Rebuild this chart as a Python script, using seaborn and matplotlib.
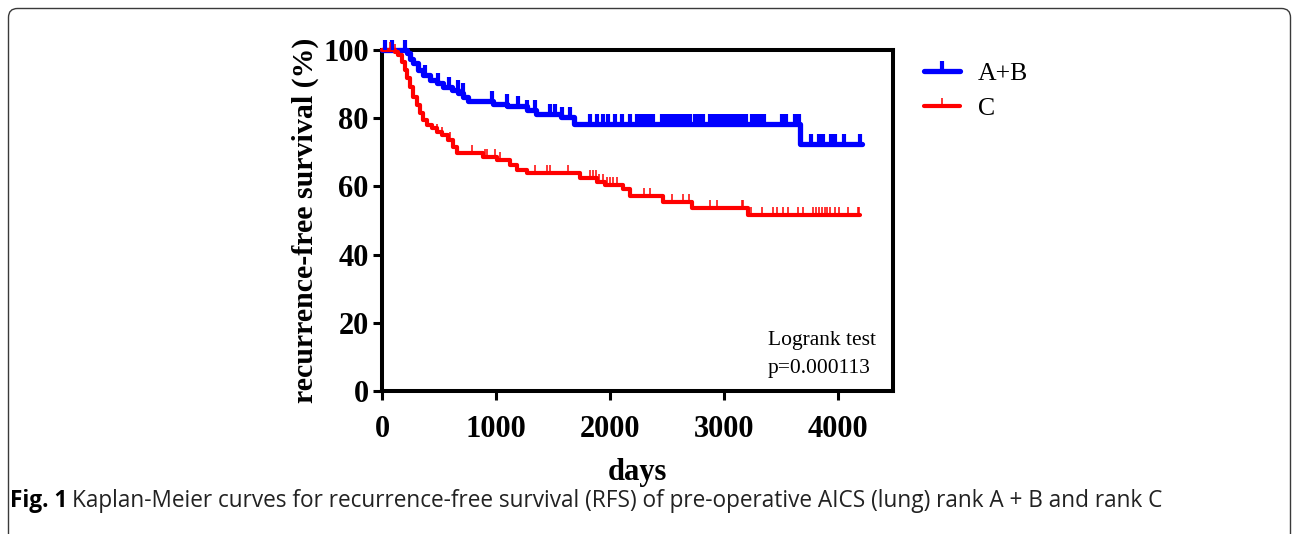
import numpy as np
import pandas as pd
import matplotlib
matplotlib.use("Agg")
import matplotlib.pyplot as plt
import seaborn as sns
from matplotlib.lines import Line2D
from matplotlib.patches import FancyBboxPatch
from matplotlib.transforms import IdentityTransform

# ---------------- data ----------------
groups = ["A+B", "C"]

ab_time = [0, 216, 246, 275, 319, 363, 421, 480, 538, 611, 670, 713, 757, 970, 1100,
           1270, 1350, 1570, 1680, 3670]
ab_surv = [100, 99, 97.5, 96.1, 94.1, 92.7, 91.2, 90.2, 89.2, 88.3, 87.3, 86.3, 85,
           84.2, 83.6, 82.4, 81.2, 80.3, 78.4, 72.3]
ab_end = 4210
ab_cens = [26, 88, 202, 377, 491, 588, 667, 711, 965, 1096, 1193, 1272, 1342, 1474,
           1518, 1579, 1649, 1825, 1886, 1939, 1982, 2044, 2105, 2175, 2237, 2289,
           2351, 2272, 2307, 2342, 2377, 2456, 2491, 2526, 2561, 2596, 2632, 2667,
           2702, 2746, 2781, 2816, 2877, 2912, 2947, 2982, 3018, 3053, 3088, 3123,
           3158, 3193, 3246, 3281, 3316, 3351, 3509, 3544, 3623, 3658, 3763, 3833,
           3868, 3939, 3974, 4053, 4193]

c_time = [0, 114, 143, 172, 202, 222, 246, 275, 304, 333, 363, 392, 436, 480, 523,
          582, 620, 655, 886, 1009, 1123, 1184, 1272, 1737, 1886, 1956, 2114, 2175,
          2465, 2719, 3211]
c_surv = [100, 99.3, 98.5, 96.6, 94.1, 91.7, 89.2, 86.3, 83.9, 81.4, 79.5, 78, 77,
          76, 75.1, 73.6, 71.6, 69.7, 68.6, 67.7, 66.2, 64.9, 63.8, 62.6, 61.2, 60.5,
          59.3, 57.2, 55.5, 53.7, 51.7]
c_end = 4193
c_cens = [70, 114, 482, 526, 596, 789, 904, 921, 991, 1035, 1342, 1447, 1474, 1632,
          1825, 1851, 1877, 1903, 1939, 1974, 2000, 2026, 2061, 2298, 2351, 2544,
          2640, 2693, 2719, 2877, 2939, 3158, 3167, 3211, 3237, 3333, 3430, 3465,
          3518, 3561, 3649, 3693, 3781, 3807, 3833, 3860, 3886, 3904, 3930, 3974,
          4009, 4088, 4175, 4184]

x_ticks = [0, 1000, 2000, 3000, 4000]
y_ticks = [0, 20, 40, 60, 80, 100]
logrank_lines = ["Logrank test", "p=0.000113"]
caption_bold = "Fig. 1"
caption_text = ("Kaplan-Meier curves for recurrence-free survival (RFS) of pre-operative "
                "AICS (lung) rank A + B and rank C")

# ---------------- style ----------------
sns.set_style("ticks")
SERIF = ["Liberation Serif", "DejaVu Serif"]
plt.rcParams["font.family"] = SERIF
for k in ["text.color", "axes.labelcolor", "xtick.color", "ytick.color"]:
    plt.rcParams[k] = "black"

W, H, DPI = 1292, 534, 100
fig = plt.figure(figsize=(W / DPI, H / DPI), dpi=DPI)
fig.patch.set_facecolor("white")

x0, x1, yb, yt = 382, 893, 391, 50
ax = fig.add_axes([x0 / W, 1 - yb / H, (x1 - x0) / W, (yb - yt) / H])
ax.set_facecolor("white")

styles = {
    "A+B": dict(color="#0000FF", lw=3.8, ms=7.5, mew=3.0),
    "C": dict(color="#FF0000", lw=3.0, ms=5.5, mew=1.1),
}
series = {
    "A+B": (ab_time, ab_surv, ab_end, ab_cens),
    "C": (c_time, c_surv, c_end, c_cens),
}

for g in groups:
    t, s, end, cens = series[g]
    st = styles[g]
    df = pd.DataFrame({"days": list(t) + [end], "surv": list(s) + [s[-1]]})
    sns.lineplot(data=df, x="days", y="surv", drawstyle="steps-post", color=st["color"],
                 linewidth=st["lw"], estimator=None, sort=False, ax=ax,
                 clip_on=False, zorder=3)
    idx = np.searchsorted(np.asarray(t), np.asarray(cens), side="right") - 1
    cy = np.asarray(s)[idx]
    sns.scatterplot(x=cens, y=cy, marker=2, s=st["ms"] ** 2, linewidth=st["mew"],
                    color=st["color"], edgecolor=st["color"], ax=ax, clip_on=False,
                    zorder=4, legend=False)

ax.set_xlim(0, 4482)
ax.set_ylim(0, 100)
ax.set_xticks(x_ticks)
ax.set_yticks(y_ticks)
ax.set_xticklabels([str(v) for v in x_ticks])
ax.set_yticklabels([str(v) for v in y_ticks])
for sp in ax.spines.values():
    sp.set_visible(True)
    sp.set_linewidth(2.9)
    sp.set_color("black")
ax.tick_params(axis="both", direction="out", length=6.5, width=2.2, color="black",
               labelcolor="black", labelsize=22, pad=3)
ax.tick_params(axis="x", pad=11)
for lab in ax.get_xticklabels() + ax.get_yticklabels():
    lab.set_fontweight("bold")

ax.set_xlabel("days", fontsize=22, fontweight="bold", labelpad=10, color="black")
ax.set_ylabel("recurrence-free survival (%)", fontsize=21.5, fontweight="bold",
              labelpad=3, color="black")

# Logrank annotation
ax.text((768 - x0) / (x1 - x0), (yb - 341) / (yb - yt), logrank_lines[0],
        transform=ax.transAxes, ha="left", va="center", fontsize=15.5, color="black")
ax.text((768 - x0) / (x1 - x0), (yb - 368) / (yb - yt), logrank_lines[1],
        transform=ax.transAxes, ha="left", va="center", fontsize=15.5, color="black")

# Legend
handles = [Line2D([], [], color=styles[g]["color"], lw=styles[g]["lw"], marker=2,
                  markersize=styles[g]["ms"], markeredgewidth=styles[g]["mew"])
           for g in groups]
leg = fig.legend(handles, groups, loc="upper left", bbox_to_anchor=(924 / W, 1 - 62 / H),
                 frameon=False, prop={"family": SERIF, "size": 18.5}, handlelength=1.4,
                 handletextpad=0.7, labelspacing=0.45, borderpad=0, borderaxespad=0)
for tx in leg.get_texts():
    tx.set_color("black")

# Caption
CAP_FONT = ["Open Sans", "DejaVu Sans"]
fig.canvas.draw()
cap1 = fig.text(10 / W, 1 - 501 / H, caption_bold, ha="left", va="center",
                fontsize=16.3, fontweight="bold", family=CAP_FONT, color="black")
fig.canvas.draw()
bb = cap1.get_window_extent()
fig.text((bb.x1 + 5) / W, 1 - 501 / H, caption_text, ha="left", va="center",
         fontsize=16.3, family=CAP_FONT, color="#222222")

# Rounded frame around the figure
frame = FancyBboxPatch((8.5, -30), 1282, 534 - 8.5 + 30,
                       boxstyle="round,pad=0,rounding_size=9",
                       transform=IdentityTransform(), fill=False,
                       edgecolor="#3a3a3a", linewidth=1.0)
fig.patches.append(frame)

fig.savefig("out.png", dpi=DPI, facecolor="white")
